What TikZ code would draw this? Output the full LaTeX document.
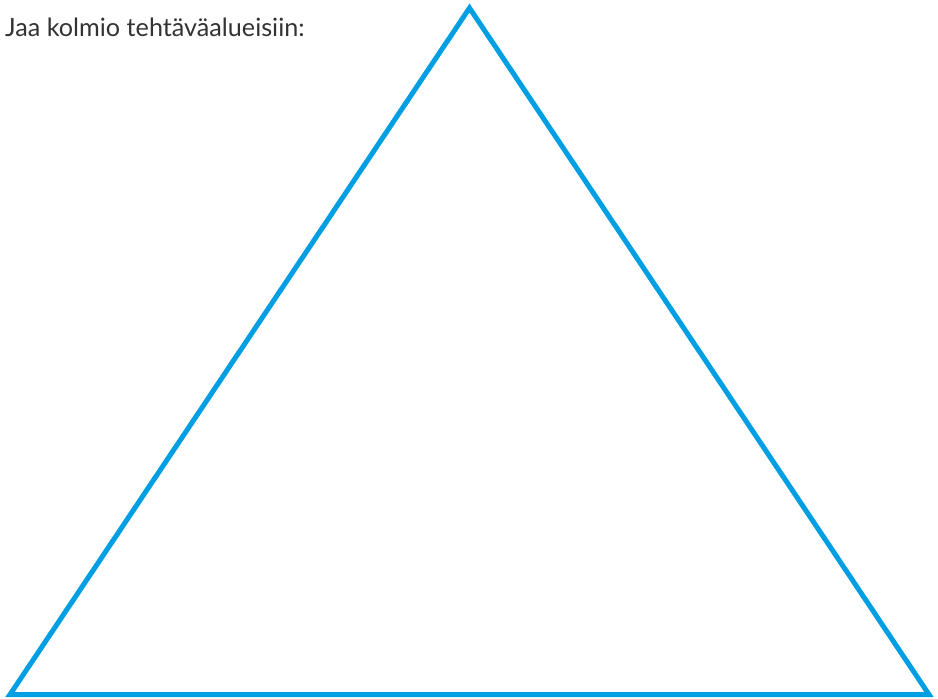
\documentclass[tikz,border=0pt]{standalone}
\usepackage{fontspec}
\setmainfont{Lato}
\definecolor{triblue}{RGB}{0,159,227}
\definecolor{txtgray}{RGB}{51,51,51}
\tikzset{tri/.style={draw=triblue,line width=5pt,line join=miter},
  lbl/.style={anchor=base west,inner sep=0pt,text=txtgray,font=\fontsize{25.2}{30}\selectfont}}
\begin{document}
\begin{tikzpicture}[x=1pt,y=-1pt]
\useasboundingbox (0,0) rectangle (938,699);
\coordinate (A) at (469.5,8);
\coordinate (B) at (10,694.5);
\coordinate (C) at (929,694.5);
\draw[tri] (A) -- (B) -- (C) -- cycle;
\node[lbl] (t) at (5,36.5) {Jaa kolmio tehtäväalueisiin:};
\end{tikzpicture}
\end{document}
